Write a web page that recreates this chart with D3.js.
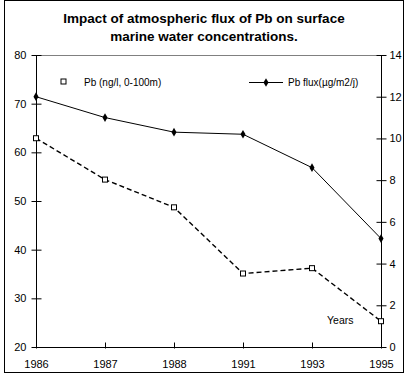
<!DOCTYPE html>
<html><head><meta charset="utf-8">
<script src="https://cdn.jsdelivr.net/npm/d3@7"></script>
<style>body{margin:0;background:#fff;} text{font-family:"Liberation Sans",Arial,sans-serif;fill:#000;}</style>
</head><body>
<svg id="c" width="408" height="377"></svg>
<script>
const years = ["1986","1987","1988","1991","1993","1995"];
const pbConc = [62.9, 54.4, 48.7, 35.1, 36.2, 25.3];
const pbFlux = [12.0, 11.0, 10.3, 10.2, 8.6, 5.2];
const leftTicks = [20,30,40,50,60,70,80];
const rightTicks = [0,2,4,6,8,10,12,14];

const svg = d3.select("#c");
const L = 36, R = 381, T = 55, B = 347;
const x = d3.scalePoint().domain(years).range([L, R]);
const yL = d3.scaleLinear().domain([20, 80]).range([B, T]);
const yR = d3.scaleLinear().domain([0, 14]).range([B, T]);

// outer border
svg.append("rect").attr("x",4.5).attr("y",0.5).attr("width",399).attr("height",372)
  .attr("fill","none").attr("stroke","#000");

// title
const title = svg.append("text").attr("text-anchor","middle").attr("font-weight","bold").attr("font-size",13.5);
title.append("tspan").attr("x",204).attr("y",23).text("Impact of atmospheric flux of Pb on surface");
title.append("tspan").attr("x",204).attr("y",41).text("marine water concentrations.");

// top grey line
svg.append("line").attr("x1",L).attr("x2",R).attr("y1",T+0.5).attr("y2",T+0.5).attr("stroke","#808080");

// left axis
const gl = svg.append("g").attr("transform",`translate(${L+0.5},0)`)
  .call(d3.axisLeft(yL).tickValues(leftTicks).tickSize(4).tickPadding(6).tickFormat(d3.format("d")));
gl.selectAll(".tick line").attr("x1",5).attr("x2",-5);
// right axis
const gr = svg.append("g").attr("transform",`translate(${R+0.5},0)`)
  .call(d3.axisRight(yR).tickValues(rightTicks).tickSize(4).tickPadding(4).tickFormat(d3.format("d")));
gr.selectAll(".tick line").attr("x1",-5).attr("x2",5);
// bottom axis
const gb = svg.append("g").attr("transform",`translate(0,${B+0.5})`)
  .call(d3.axisBottom(x).tickSize(0).tickPadding(13));
gb.selectAll(".tick line").attr("y1",-5).attr("y2",1);
[gl,gr,gb].forEach(g=>{
  g.select(".domain").attr("stroke","#000");
  g.selectAll("text").attr("font-size",11).attr("font-family","'Liberation Sans',Arial,sans-serif");
  g.selectAll(".tick line").attr("stroke","#000");
});
gb.select(".domain").attr("d",`M${L},0H${R}`);
gl.select(".domain").attr("d",`M0,${T}V${B}`);
gr.select(".domain").attr("d",`M0,${T}V${B}`);

// Pb concentration dashed line
svg.append("path").datum(pbConc)
  .attr("d", d3.line().x((d,i)=>x(years[i])).y(d=>yL(d)))
  .attr("fill","none").attr("stroke","#000").attr("stroke-width",1.4).attr("stroke-dasharray","5,3");
svg.selectAll(".sq").data(pbConc).enter().append("rect")
  .attr("x",(d,i)=>x(years[i])-2.5).attr("y",d=>yL(d)-2.5).attr("width",5).attr("height",5)
  .attr("fill","#fff").attr("stroke","#000");

// Pb flux solid line
svg.append("path").datum(pbFlux)
  .attr("d", d3.line().x((d,i)=>x(years[i])).y(d=>yR(d)))
  .attr("fill","none").attr("stroke","#000").attr("stroke-width",1);
const dia = d3.symbol().type(d3.symbolDiamond).size(22);
svg.selectAll(".dm").data(pbFlux).enter().append("path")
  .attr("transform",(d,i)=>`translate(${x(years[i])},${yR(d)})`).attr("d",dia).attr("fill","#000");

// legend
svg.append("rect").attr("x",61).attr("y",79).attr("width",5).attr("height",5).attr("fill","#fff").attr("stroke","#000");
svg.append("text").attr("x",84).attr("y",86).attr("font-size",10).text("Pb (ng/l, 0-100m)");
svg.append("line").attr("x1",249).attr("x2",283).attr("y1",82.5).attr("y2",82.5).attr("stroke","#000");
svg.append("path").attr("transform","translate(266,82.5)").attr("d",dia).attr("fill","#000");
svg.append("text").attr("x",288).attr("y",86).attr("font-size",10).text("Pb flux(µg/m2/j)");

// Years
svg.append("text").attr("x",327).attr("y",324).attr("font-size",10.5).text("Years");
</script>
</body></html>
